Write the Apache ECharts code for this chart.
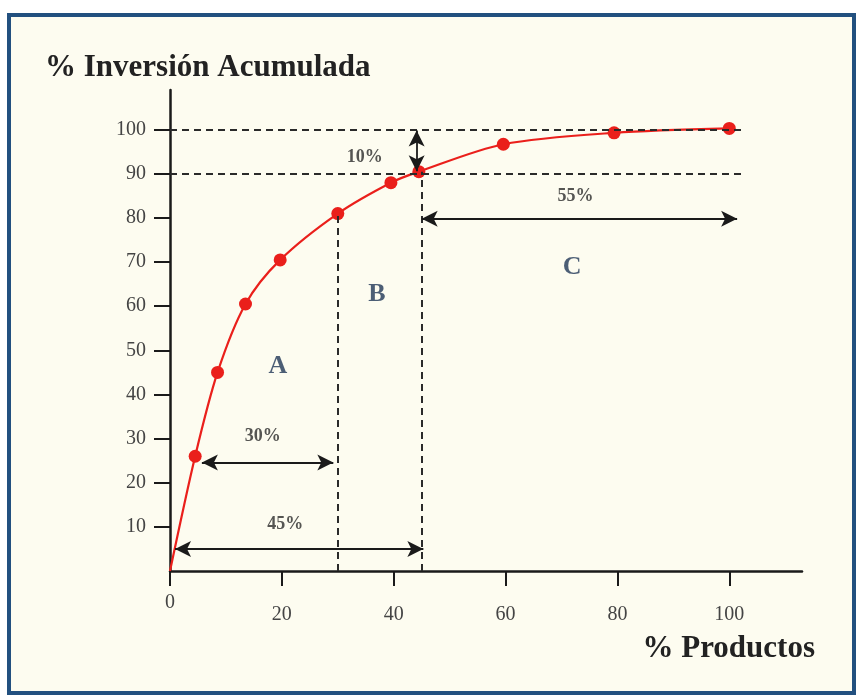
<!DOCTYPE html>
<html><head><meta charset="utf-8">
<script src="https://cdn.jsdelivr.net/npm/echarts@6/dist/echarts.min.js"></script>
<style>html,body{margin:0;padding:0;background:#fff}#c{width:858px;height:697px}</style>
</head><body><div id="c"></div><script>
// Data
const xValues = [0, 4.5, 8.5, 13.5, 19.7, 30, 39.5, 44.5, 59.6, 79.4, 100];
const yValues = [0, 26, 45, 60.5, 70.5, 81, 88, 90.5, 96.7, 99.3, 100.3];
const yTickValues = [10, 20, 30, 40, 50, 60, 70, 80, 90, 100];
const yLabelValues = [10, 20, 30, 40, 50, 60, 70, 80, 90, 100];
const xTickValues = [0, 20, 40, 60, 80, 100];
const guideH = [{ y: 100, from: 0, to: 102.5 }, { y: 90, from: 0, to: 102.5 }];
const guideV = [{ x: 30, from: 0, to: 81 }, { x: 45, from: 0, to: 90.5 }];
const arrowsH = [
  { y: 24.6, from: 5.7, to: 29.2 },
  { y: 5.0, from: 0.9, to: 45.3 },
  { y: 79.8, from: 45.0, to: 101.4 }
];
const arrowsV = [{ x: 44.1, from: 99.8, to: 90.6 }];
const pctLabels = [
  { text: '30%', x: 16.6, y: 30.6 },
  { text: '45%', x: 20.6, y: 10.6 },
  { text: '10%', x: 34.8, y: 93.8 },
  { text: '55%', x: 72.5, y: 84.8 }
];
const zoneLabels = [
  { text: 'A', x: 19.3, y: 46.3 },
  { text: 'B', x: 37.0, y: 62.8 },
  { text: 'C', x: 71.9, y: 68.9 }
];
const yTitle = '% Inversión Acumulada';
const xTitle = '% Productos';

const serif = "'Liberation Serif', 'DejaVu Serif', serif";
const chart = echarts.init(document.getElementById('c'));

const guideLines = guideH.map(g => [{ coord: [g.from, g.y] }, { coord: [g.to, g.y] }])
  .concat(guideV.map(g => [{ coord: [g.x, g.from] }, { coord: [g.x, g.to] }]));
const arrowLines = arrowsH.map(a => [{ coord: [a.from, a.y] }, { coord: [a.to, a.y] }])
  .concat(arrowsV.map(a => [{ coord: [a.x, a.from] }, { coord: [a.x, a.to] }]));

chart.setOption({
  backgroundColor: '#ffffff',
  animation: false,
  graphic: [{
    type: 'rect', z: -10, silent: true,
    shape: { x: 9, y: 15, width: 845, height: 678 },
    style: { fill: '#fdfcf0', stroke: '#22507f', lineWidth: 4 }
  }],
  title: [
    { text: yTitle, left: 40, top: 47, textStyle: { fontFamily: serif, fontWeight: 'bold', fontSize: 31, color: '#222' } },
    { text: xTitle, right: 38, top: 628, textStyle: { fontFamily: serif, fontWeight: 'bold', fontSize: 31, color: '#222' } }
  ],
  grid: { left: 170, top: 90, right: 56, bottom: 126, containLabel: false },
  xAxis: {
    type: 'value', min: 0, max: 113,
    splitLine: { show: false },
    axisLine: { lineStyle: { color: '#1a1a1a', width: 2.5 } },
    axisTick: { customValues: xTickValues, length: 15, lineStyle: { color: '#1a1a1a', width: 2 } },
    axisLabel: {
      customValues: xTickValues, margin: 20, color: '#444', fontFamily: serif, fontSize: 20,
      formatter: v => v === 0 ? '{n|0}' : '{s| }\n{n|' + v + '}',
      rich: { s: { lineHeight: 12, fontSize: 4 }, n: { lineHeight: 24, fontFamily: serif, fontSize: 20, color: '#444' } }
    }
  },
  yAxis: {
    type: 'value', min: 0, max: 109,
    splitLine: { show: false },
    axisLine: { lineStyle: { color: '#1a1a1a', width: 2.5 } },
    axisTick: { customValues: yTickValues, length: 16, lineStyle: { color: '#1a1a1a', width: 2 } },
    axisLabel: { customValues: yLabelValues, margin: 24, color: '#444', fontFamily: serif, fontSize: 20 }
  },
  series: [
    {
      type: 'line', name: 'guides', data: [], z: 1, silent: true,
      markLine: {
        silent: true, symbol: 'none', animation: false,
        label: { show: false },
        lineStyle: { type: [7, 5], color: '#2a2a2a', width: 2 },
        data: guideLines
      }
    },
    {
      type: 'line', name: 'curve', z: 3,
      data: xValues.map((x, i) => ({ value: [x, yValues[i]], symbolSize: i === 0 ? 0 : 13 })),
      smooth: 0.3, symbol: 'circle',
      lineStyle: { color: '#ea1f1b', width: 2.2 },
      itemStyle: { color: '#ea1f1b' }
    },
    {
      type: 'line', name: 'arrows', data: [], z: 4, silent: true,
      markLine: {
        silent: true, symbol: ['arrow', 'arrow'], symbolSize: [12, 16], animation: false,
        label: { show: false },
        lineStyle: { type: 'solid', color: '#1a1a1a', width: 1.8 },
        itemStyle: { color: '#1a1a1a' },
        data: arrowLines
      }
    },
    {
      type: 'scatter', name: 'pct', z: 5, silent: true, symbolSize: 0,
      data: pctLabels.map(l => ({ value: [l.x, l.y], name: l.text })),
      label: { show: true, position: 'inside', formatter: p => p.name, fontFamily: serif, fontWeight: 'bold', fontSize: 18, color: '#2a2a2a' }
    },
    {
      type: 'scatter', name: 'zones', z: 5, silent: true, symbolSize: 0,
      data: zoneLabels.map(l => ({ value: [l.x, l.y], name: l.text })),
      label: { show: true, position: 'inside', formatter: p => p.name, fontFamily: serif, fontWeight: 'bold', fontSize: 26, color: '#1f3656' }
    }
  ]
});
</script></body></html>
